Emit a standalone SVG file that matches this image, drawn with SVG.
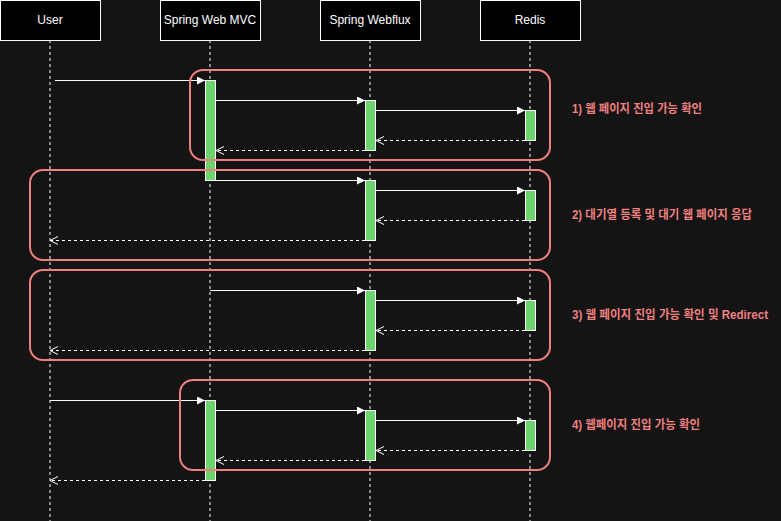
<svg xmlns="http://www.w3.org/2000/svg" width="781" height="521" viewBox="0 0 781 521">
<defs>
<marker id="block" markerUnits="userSpaceOnUse" markerWidth="10" markerHeight="10" refX="8" refY="4" orient="auto" viewBox="0 0 10 10"><path d="M0,0 L8,4 L0,8 Z" fill="#ffffff"/></marker>
<marker id="open" markerUnits="userSpaceOnUse" markerWidth="12" markerHeight="12" refX="9" refY="5" orient="auto" viewBox="0 0 12 12"><path d="M1,1 L9,5 L1,9" fill="none" stroke="#ffffff" stroke-width="1"/></marker>
<style>
.hdr rect{fill:#000;stroke:#fff;stroke-width:1}
.hdr text{fill:#fff;font-family:"Liberation Sans",Arial,"Noto Sans CJK KR",sans-serif;font-size:12px;text-anchor:middle;dominant-baseline:central}
.life{stroke:#fff;stroke-width:1;stroke-dasharray:3 3;fill:none}
.act{fill:#6CD46C;stroke:#fff;stroke-width:1}
.msg{stroke:#fff;stroke-width:1;fill:none;marker-end:url(#block)}
.ret{stroke:#fff;stroke-width:1;fill:none;stroke-dasharray:3 3;marker-end:url(#open)}
.grp{fill:none;stroke:#F08080;stroke-width:2}
.lbl{fill:#F08080;font-family:"Liberation Sans",Arial,"Noto Sans CJK KR",sans-serif;font-size:12px;font-weight:bold;dominant-baseline:central}
</style>
</defs>
<rect width="781" height="521" fill="#141414"/>
<g id="lifelines">
<line class="life" x1="50" y1="40" x2="50" y2="521"/>
<line class="life" x1="210" y1="40" x2="210" y2="521"/>
<line class="life" x1="370" y1="40" x2="370" y2="521"/>
<line class="life" x1="530" y1="40" x2="530" y2="521"/>
</g>
<g id="user" class="hdr"><rect x="0.5" y="0.5" width="100" height="40"/><text x="50" y="20">User</text></g>
<g id="mvc" class="hdr"><rect x="160.5" y="0.5" width="100" height="40"/><text x="210" y="20">Spring Web MVC</text></g>
<g id="webflux" class="hdr"><rect x="320.5" y="0.5" width="100" height="40"/><text x="370" y="20">Spring Webflux</text></g>
<g id="redis" class="hdr"><rect x="480.5" y="0.5" width="100" height="40"/><text x="530" y="20">Redis</text></g>
<g id="activations">
<rect class="act" x="205.5" y="80.5" width="10" height="100"/>
<rect class="act" x="365.5" y="100.5" width="10" height="50"/>
<rect class="act" x="525.5" y="110.5" width="10" height="30"/>
<rect class="act" x="365.5" y="180.5" width="10" height="60"/>
<rect class="act" x="525.5" y="190.5" width="10" height="30"/>
<rect class="act" x="365.5" y="290.5" width="10" height="60"/>
<rect class="act" x="525.5" y="300.5" width="10" height="30"/>
<rect class="act" x="205.5" y="400.5" width="10" height="80"/>
<rect class="act" x="365.5" y="410.5" width="10" height="50"/>
<rect class="act" x="525.5" y="420.5" width="10" height="30"/>
</g>
<g id="connectors">
<line class="msg" x1="55" y1="80.5" x2="205" y2="80.5"/>
<line class="msg" x1="215.5" y1="100.5" x2="365" y2="100.5"/>
<line class="msg" x1="375.5" y1="110.5" x2="525" y2="110.5"/>
<line class="ret" x1="525" y1="140.5" x2="376" y2="140.5"/>
<line class="ret" x1="365" y1="150.5" x2="216" y2="150.5"/>
<line class="msg" x1="215.5" y1="180.5" x2="365" y2="180.5"/>
<line class="msg" x1="375.5" y1="190.5" x2="525" y2="190.5"/>
<line class="ret" x1="525" y1="220.5" x2="376" y2="220.5"/>
<line class="ret" x1="365" y1="240.5" x2="50" y2="240.5"/>
<line class="msg" x1="210" y1="290.5" x2="365" y2="290.5"/>
<line class="msg" x1="375.5" y1="300.5" x2="525" y2="300.5"/>
<line class="ret" x1="525" y1="330.5" x2="376" y2="330.5"/>
<line class="ret" x1="365" y1="350.5" x2="50" y2="350.5"/>
<line class="msg" x1="50" y1="400.5" x2="205" y2="400.5"/>
<line class="msg" x1="215.5" y1="410.5" x2="365" y2="410.5"/>
<line class="msg" x1="375.5" y1="420.5" x2="525" y2="420.5"/>
<line class="ret" x1="525" y1="450.5" x2="376" y2="450.5"/>
<line class="ret" x1="365" y1="460.5" x2="216" y2="460.5"/>
<line class="ret" x1="205" y1="480.5" x2="50" y2="480.5"/>
</g>
<g id="group1"><rect class="grp" x="190" y="70" width="360" height="90" rx="13" ry="13"/><text class="lbl" x="572" y="109" textLength="130" lengthAdjust="spacingAndGlyphs">1) 웹 페이지 진입 가능 확인</text></g>
<g id="group2"><rect class="grp" x="30" y="170" width="520" height="90" rx="13" ry="13"/><text class="lbl" x="572" y="215" textLength="180" lengthAdjust="spacingAndGlyphs">2) 대기열 등록 및 대기 웹 페이지 응답</text></g>
<g id="group3"><rect class="grp" x="30" y="270" width="520" height="90" rx="13" ry="13"/><text class="lbl" x="572" y="315" textLength="196" lengthAdjust="spacingAndGlyphs">3) 웹 페이지 진입 가능 확인 및 Redirect</text></g>
<g id="group4"><rect class="grp" x="180" y="380" width="370" height="90" rx="13" ry="13"/><text class="lbl" x="572" y="425" textLength="128" lengthAdjust="spacingAndGlyphs">4) 웹페이지 진입 가능 확인</text></g>
</svg>
